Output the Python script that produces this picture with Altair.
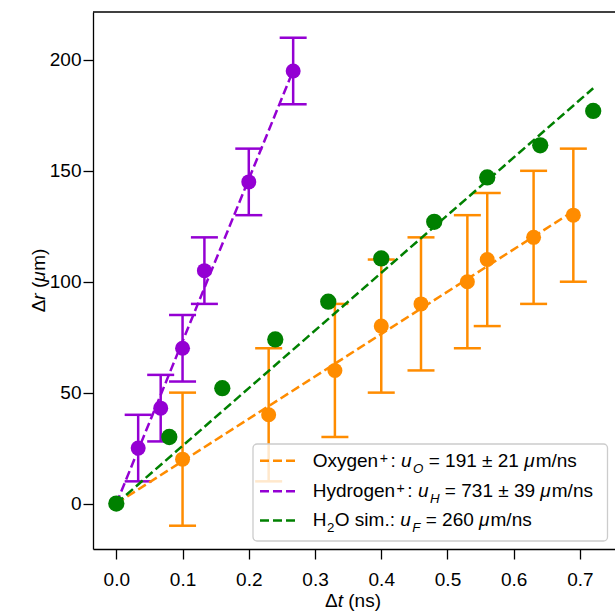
import altair as alt
import pandas as pd

# ---------------- data ----------------
oxy_t = [0.10, 0.23, 0.33, 0.40, 0.46, 0.53, 0.56, 0.63, 0.69]
oxy_r = [20, 40, 60, 80, 90, 100, 110, 120, 130]
oxy_err = [30, 30, 30, 30, 30, 30, 30, 30, 30]

hyd_t = [0.033, 0.067, 0.10, 0.133, 0.20, 0.267]
hyd_r = [25, 43, 70, 105, 145, 195]
hyd_err = [15, 15, 15, 15, 15, 15]

sim_t = [0.0, 0.08, 0.16, 0.24, 0.32, 0.40, 0.48, 0.56, 0.64, 0.72]
sim_r = [0, 30, 52, 74, 91, 110.5, 127, 147, 161.5, 177]

fit_oxy_t = [0.0, 0.69]
fit_oxy_r = [0.0, 131.8]
fit_hyd_t = [0.0, 0.267]
fit_hyd_r = [0.0, 195.2]
fit_sim_t = [0.0, 0.72]
fit_sim_r = [0.0, 187.2]

x_ticks = [0.0, 0.1, 0.2, 0.3, 0.4, 0.5, 0.6, 0.7]
y_ticks = [0, 50, 100, 150, 200]

ORANGE = "#ff8c00"
VIOLET = "#9400d3"
GREEN = "#008000"

# ---------------- layout ----------------
PL, PT = 93, 12
W, H = 522, 537
FONT = "Liberation Sans"
FS = 19

XD = [-0.0352, 0.7529]
YD = [-20.5, 221.6]
xs = alt.Scale(domain=XD, nice=False, zero=False)
ys = alt.Scale(domain=YD, nice=False, zero=False)

x_axis = alt.Axis(values=x_ticks, format=".1f", title=None, grid=False,
                  tickSize=10, tickWidth=1.3, tickColor="black",
                  domainColor="black", domainWidth=1.3,
                  labelFont=FONT, labelFontSize=FS, labelColor="black",
                  labelBaseline="alphabetic", labelPadding=26,
                  labelFlush=False, labelOverlap=False)
y_axis = alt.Axis(values=y_ticks, title=None, grid=False,
                  tickSize=10, tickWidth=1.3, tickColor="black",
                  domainColor="black", domainWidth=1.3,
                  labelFont=FONT, labelFontSize=FS, labelColor="black",
                  labelPadding=2, labelFlush=False, labelOverlap=False)


def X(f):
    return alt.X(f, type="quantitative", scale=xs, axis=x_axis)


def Y(f):
    return alt.Y(f, type="quantitative", scale=ys, axis=y_axis)


# page pixel -> data coordinates (for annotation placement only)
def px2x(p):
    return XD[0] + (p - PL) / W * (XD[1] - XD[0])


def py2y(p):
    return YD[1] - (p - PT) / H * (YD[1] - YD[0])


def errorbar_layers(t, r, e, color):
    df = pd.DataFrame({"t": t, "r": r, "e": e})
    base = alt.Chart(df).transform_calculate(lo="datum.r - datum.e", hi="datum.r + datum.e")
    bars = base.mark_rule(color=color, strokeWidth=2.5).encode(x=X("t"), y=Y("lo:Q"), y2="hi:Q")
    cap_lo = base.mark_tick(orient="horizontal", size=27, thickness=2.5, color=color, opacity=1).encode(x=X("t"), y=Y("lo:Q"))
    cap_hi = base.mark_tick(orient="horizontal", size=27, thickness=2.5, color=color, opacity=1).encode(x=X("t"), y=Y("hi:Q"))
    pts = base.mark_circle(size=225, color=color, opacity=1).encode(x=X("t"), y=Y("r"))
    return [bars, cap_lo, cap_hi, pts]


def fit_line(t, r, color):
    df = pd.DataFrame({"t": t, "r": r})
    return alt.Chart(df).mark_line(color=color, strokeDash=[9, 4], strokeWidth=2.5).encode(x=X("t"), y=Y("r"))


top_df = pd.DataFrame({"t": [0.0], "r": [0.0]})
top_spine = alt.Chart(top_df).mark_rule(color="black", strokeWidth=1.3).encode(
    x=alt.value(0), x2=alt.value(W), y=alt.value(0))

sim_df = pd.DataFrame({"t": sim_t, "r": sim_r})
sim_pts = alt.Chart(sim_df).mark_circle(size=265, color=GREEN, opacity=1).encode(x=X("t"), y=Y("r"))

# ---------------- rich text (legend labels, axis titles) ----------------
CW = {" ": 278, "+": 584, ":": 278, "=": 584, "±": 549, "μ": 576, "m": 833, "/": 278,
      "n": 556, "s": 500, "O": 778, "x": 500, "y": 500, "g": 556, "e": 556, "H": 722,
      "d": 556, "r": 333, "o": 556, "u": 556, "i": 222, ".": 278, "F": 611, "Δ": 668,
      "t": 278, "(": 333, ")": 333}


def tw(s, fs):
    return sum(CW.get(c, 556) for c in s) * fs / 1000.0


def add_seg(rows, txt, x, y, size, ang, ital, vertical=False):
    lead = len(txt) - len(txt.lstrip(" "))
    off = tw(" " * lead, size)
    core = txt.strip(" ")
    if vertical:
        rows.append({"x": x, "y": y - off, "txt": core, "fs": size, "ang": ang, "it": ital})
    else:
        rows.append({"x": x + off, "y": y, "txt": core, "fs": size, "ang": ang, "it": ital})


def layout_h(segs, x0, y0, fs):
    rows = []
    x = x0
    for txt, ital, kind, gap in segs:
        size, dy = fs, 0
        if kind == "sup":
            size, dy = round(fs * 0.75, 1), -4.0
        elif kind == "sub":
            size, dy = round(fs * 0.7, 1), 5.5
        add_seg(rows, txt, x, y0 + dy, size, 0, ital)
        x += tw(txt, size) + gap
    return rows


def layout_v(segs, xb, y0, fs):
    rows = []
    y = y0
    for txt, ital, kind, gap in segs:
        add_seg(rows, txt, xb, y, fs, 270, ital, vertical=True)
        y -= tw(txt, fs) + gap
    return rows


leg_x = 312.7
leg_rows = [
    [("Oxygen", 0, "n", 1.5), ("+", 0, "sup", 2.5), (":", 0, "n", 0), (" u", 1, "n", 1.5), ("O", 1, "sub", 0),
     (" = 191 ± 21", 0, "n", 0), (" μ", 1, "n", 0.5), ("m/ns", 0, "n", 0)],
    [("Hydrogen", 0, "n", 1.5), ("+", 0, "sup", 2.5), (":", 0, "n", 0), (" u", 1, "n", 1.5), ("H", 1, "sub", 0),
     (" = 731 ± 39", 0, "n", 0), (" μ", 1, "n", 0.5), ("m/ns", 0, "n", 0)],
    [("H", 0, "n", 0.5), ("2", 0, "sub", 0.5), ("O sim.:", 0, "n", 0), (" u", 1, "n", 1.5), ("F", 1, "sub", 0),
     (" = 260", 0, "n", 0), (" μ", 1, "n", 0.5), ("m/ns", 0, "n", 0)],
]
leg_base = [467, 497, 526]

text_rows = []
for segs, yb in zip(leg_rows, leg_base):
    text_rows += layout_h(segs, leg_x, yb, FS)

xt_segs = [("Δ", 0, "n", 0), ("t", 1, "n", 0), (" (ns)", 0, "n", 0)]
xt_w = sum(tw(s, FS) for s, _, _, _ in xt_segs)
text_rows += layout_h(xt_segs, 353 - xt_w / 2, 607, FS)

yt_segs = [("Δ", 0, "n", 0), ("r", 1, "n", 0), (" (", 0, "n", 0), ("μ", 1, "n", 0), ("m)", 0, "n", 0)]
yt_w = sum(tw(s, FS) for s, _, _, _ in yt_segs)
text_rows += layout_v(yt_segs, 45, 280.5 + yt_w / 2, FS)

tdf = pd.DataFrame(text_rows)
tdf["t"] = tdf["x"].map(px2x)
tdf["r"] = tdf["y"].map(py2y)

text_layers = []
for (ital, size, ang), grp in tdf.groupby(["it", "fs", "ang"]):
    text_layers.append(
        alt.Chart(grp[["t", "r", "txt"]].reset_index(drop=True)).mark_text(
            align="left", baseline="alphabetic", font=FONT, color="black",
            fontSize=float(size), angle=float(ang),
            fontStyle="italic" if ital else "normal").encode(
            x=X("t"), y=Y("r"), text="txt:N"))

legend_box = alt.Chart(top_df).mark_rect(
    fill="white", fillOpacity=0.8, stroke="#cccccc", strokeWidth=1.3, cornerRadius=4).encode(
    x=alt.value(253 - PL), x2=alt.value(607.5 - PL), y=alt.value(444 - PT), y2=alt.value(541 - PT))

handle_colors = [ORANGE, VIOLET, GREEN]
handle_y = [460.7, 491.3, 520.5]
handle_layers = []
for c, hy in zip(handle_colors, handle_y):
    hdf = pd.DataFrame({"t": [px2x(260)], "t2": [px2x(298)], "r": [py2y(hy)]})
    handle_layers.append(alt.Chart(hdf).mark_rule(color=c, strokeDash=[9, 4], strokeWidth=2.5).encode(
        x=X("t"), x2="t2:Q", y=Y("r")))

layers = [top_spine]
layers += errorbar_layers(oxy_t, oxy_r, oxy_err, ORANGE)
layers += errorbar_layers(hyd_t, hyd_r, hyd_err, VIOLET)
layers += [fit_line(fit_oxy_t, fit_oxy_r, ORANGE),
           fit_line(fit_hyd_t, fit_hyd_r, VIOLET),
           fit_line(fit_sim_t, fit_sim_r, GREEN),
           sim_pts, legend_box]
layers += handle_layers + text_layers

chart = alt.layer(*layers).properties(
    width=W, height=H,
    autosize=alt.AutoSizeParams(type="none"),
    padding={"left": PL, "top": PT, "right": 0, "bottom": 612 - PT - H},
    background="white",
).configure_view(stroke=None)

chart.save("out.html", embed_options={"renderer": "svg", "actions": False})
